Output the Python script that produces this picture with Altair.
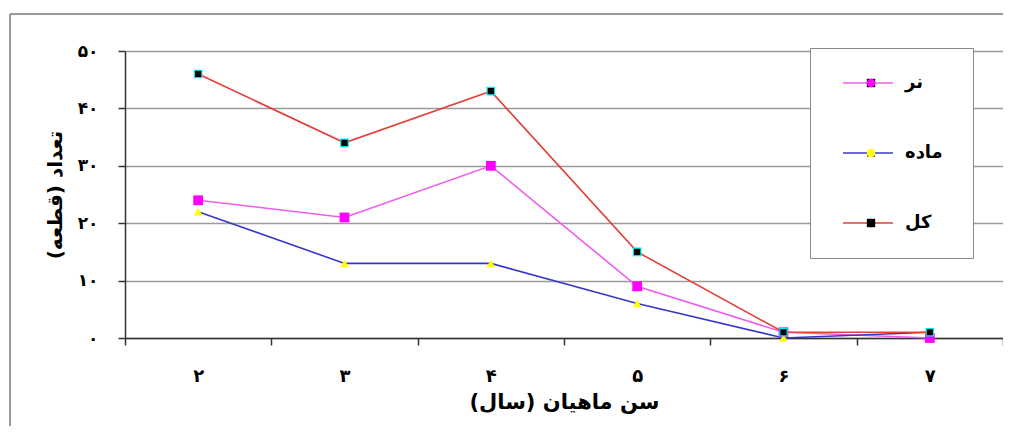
import altair as alt
import pandas as pd

# ---- data ----
ages = ["۲", "۳", "۴", "۵", "۶", "۷"]
series_names = ["نر", "ماده", "کل"]
male = [24, 21, 30, 9, 1, 0]
female = [22, 13, 13, 6, 0, 1]
total = [46, 34, 43, 15, 1, 1]
y_ticks = [0, 10, 20, 30, 40, 50]
y_tick_labels = ["۰", "۱۰", "۲۰", "۳۰", "۴۰", "۵۰"]

# ---- styles ----
line_colors = ["#ee5cee", "#3838c8", "#e2403a"]
marker_fills = ["#ff00ff", "#ffff00", "#000000"]
marker_shapes = ["square", "triangle-up", "square"]
marker_sizes = [95, 55, 60]
FONT = "DejaVu Sans"

rows = []
for name, vals in zip(series_names, [male, female, total]):
    for a, v in zip(ages, vals):
        rows.append({"age": a, "series": name, "count": v})
df = pd.DataFrame(rows)

label_expr = "[" + ",".join("'%s'" % s for s in y_tick_labels) + "][datum.value / 10]"

x_enc = alt.X(
    "age:O",
    sort=ages,
    scale=alt.Scale(type="band", paddingInner=0, paddingOuter=0),
    axis=alt.Axis(
        title="سن ماهیان (سال)",
        orient="bottom",
        tickBand="extent",
        labelAngle=0,
        grid=False,
        tickSize=7,
        labelPadding=22,
        labelFontSize=18,
        titlePadding=6,
        titleFontSize=21,
    ),
)
y_enc = alt.Y(
    "count:Q",
    scale=alt.Scale(domain=[0, 50], nice=False),
    axis=alt.Axis(
        title="تعداد (قطعه)",
        orient="left",
        values=y_ticks,
        labelExpr=label_expr,
        grid=True,
        tickSize=7,
        labelPadding=20,
        labelFontSize=17,
        titlePadding=12,
        titleFontSize=20,
    ),
)

base = alt.Chart(df).encode(x=x_enc, y=y_enc)

lines = base.mark_line(strokeWidth=1.6).encode(
    color=alt.Color(
        "series:N",
        scale=alt.Scale(domain=series_names, range=line_colors),
        legend=alt.Legend(
            title="\u00a0\u00a0\u00a0",
            titleOrient="right",
            titleFontSize=14,
            titlePadding=4,
            orient="none",
            legendX=685,
            legendY=-3,
            symbolType="stroke",
            symbolSize=2500,
            symbolStrokeWidth=1.6,
            symbolOffset=6,
            clipHeight=18,
            rowPadding=52,
            padding=26,
            labelOffset=11,
            labelFontSize=18,
            fillColor="white",
            strokeColor="#8a8a8a",
            zindex=1,
        ),
    )
)

marker_legend = alt.Legend(
    title=None,
    orient="none",
    legendX=685,
    legendY=-3,
    symbolSize=70,
    symbolStrokeWidth=0,
    symbolOpacity=1,
    clipHeight=18,
    rowPadding=52,
    padding=26,
    labelOffset=6,
    symbolOffset=26,
    labelExpr="''",
    labelFontSize=18,
    zindex=2,
)

points = base.mark_point(filled=True, opacity=1, stroke="#00e8ee").encode(
    fill=alt.Fill(
        "series:N",
        sort=series_names,
        scale=alt.Scale(range=marker_fills),
        legend=marker_legend,
    ),
    shape=alt.Shape(
        "series:N",
        sort=series_names,
        scale=alt.Scale(range=marker_shapes),
        legend=marker_legend,
    ),
    size=alt.Size(
        "series:N",
        sort=series_names,
        scale=alt.Scale(range=marker_sizes),
        legend=None,
    ),
    strokeWidth=alt.condition(alt.datum.series == "کل", alt.value(1.2), alt.value(0)),
)

# outer chart-area border: only its left and top edges are drawn
frame_df = pd.DataFrame({"k": [0]})
frame_left = alt.Chart(frame_df).mark_rule(color="#9a9a9a", strokeWidth=2).encode(
    x=alt.value(-115), y=alt.value(-37), y2=alt.value(400)
)
frame_top = alt.Chart(frame_df).mark_rule(color="#9a9a9a", strokeWidth=2).encode(
    x=alt.value(-115), x2=alt.value(878), y=alt.value(-37)
)

chart = (
    alt.layer(frame_left, frame_top, lines, points)
    .properties(
        width=878,
        height=287,
        padding={"left": 117, "top": 43, "right": 0, "bottom": 88},
        autosize=alt.AutoSizeParams(type="none"),
    )
    .configure_view(stroke="transparent", strokeWidth=0)
    .configure_axis(
        labelFont=FONT,
        titleFont=FONT,
        labelFontWeight="bold",
        titleFontWeight="bold",
        labelColor="#000000",
        titleColor="#000000",
        domainColor="#333333",
        domainWidth=1.5,
        tickColor="#333333",
        tickWidth=1.5,
        gridColor="#9a9a9a",
        gridWidth=1.5,
    )
    .configure_legend(
        labelFont=FONT,
        titleFont=FONT,
        labelFontWeight="bold",
        labelColor="#000000",
    )
)

chart.save("out.html", embed_options={"renderer": "svg", "actions": False})
